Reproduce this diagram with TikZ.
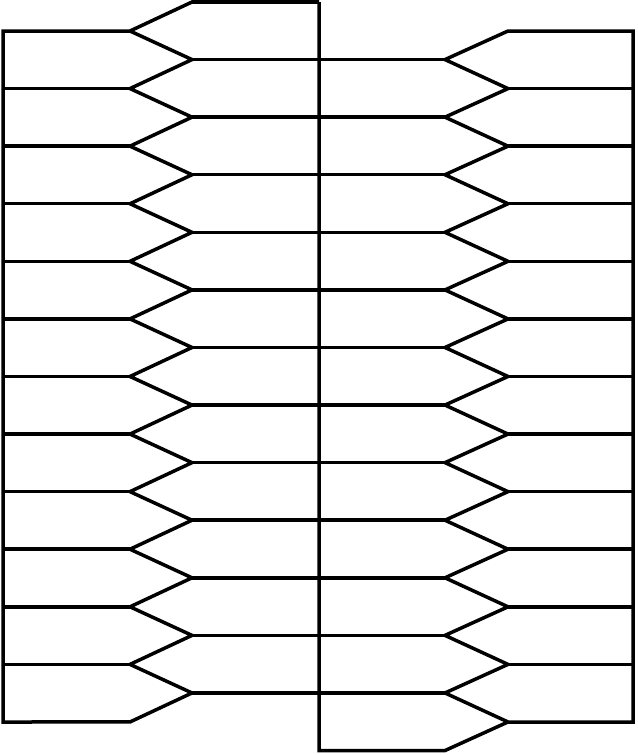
\documentclass[tikz,border=0pt]{standalone}
\begin{document}
\begin{tikzpicture}[x=0.03cm, y=-0.03cm, line width=0.105cm, line join=miter]
		\useasboundingbox (0,0) rectangle (637,755);
		
		% Lato sinistro
		\draw (319,2) \foreach \j in {0,...,12}{ -- (192,{2+57.58*\j}) -- (130,{31+57.58*\j}) } -- (3,722) -- (3,31) -- (130,31);
		\foreach \j in {1,...,11}
			\draw (3,{31+57.58*\j}) -- (130,{31+57.58*\j});
		
		% Asse centrale
		\draw (319,2) -- (319,750.5) \foreach \j in {13,...,1}{ -- (445,{2+57.58*\j}) -- (508,{31+57.58*(\j-1)}) } -- (633,31) -- (633,722) -- (508,722);
		\foreach \j in {1,...,12}
			\draw (192,{2+57.58*\j}) -- (445,{2+57.58*\j});
		
		% Lato destro
		\foreach \j in {1,...,11}
			\draw (508,{31+57.58*\j}) -- (633,{31+57.58*\j});
	\end{tikzpicture}
\end{document}
